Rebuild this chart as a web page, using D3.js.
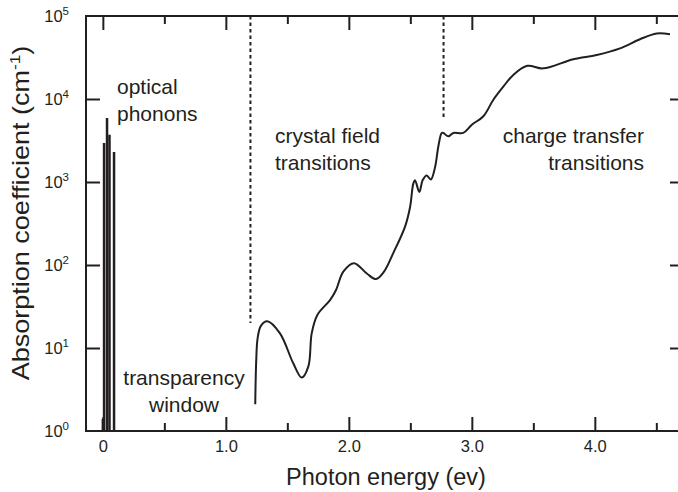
<!DOCTYPE html>
<html>
<head>
<meta charset="utf-8">
<script src="https://cdn.jsdelivr.net/npm/d3@7"></script>
<style>
  html, body { margin: 0; padding: 0; background: #fff; }
  svg { display: block; }
  text { font-family: "Liberation Sans", Arial, sans-serif; fill: #231f20; }
</style>
</head>
<body>
<svg id="chart" width="678" height="492"></svg>
<script>
// ---- data ----
const curveEnergy = [1.239, 1.247, 1.258, 1.285, 1.337, 1.44, 1.549, 1.617, 1.671, 1.698, 1.744, 1.847, 1.896, 1.955, 2.042, 2.146, 2.221, 2.286, 2.362, 2.457, 2.498, 2.524, 2.538, 2.573, 2.6, 2.633, 2.666, 2.701, 2.728, 2.755, 2.768, 2.809, 2.85, 2.93, 3.0, 3.094, 3.175, 3.256, 3.337, 3.451, 3.581, 3.825, 4.015, 4.205, 4.367, 4.503, 4.611];
const curveAbsorption = [2.1, 7, 13, 18.5, 21, 15.0, 6.5, 4.4, 6.0, 15.0, 25, 37.8, 50, 83, 105, 79, 67.6, 83, 140, 290, 500, 955, 1050, 760, 1050, 1200, 1070, 1510, 2700, 3900, 3900, 3550, 3900, 3900, 4900, 6200, 9800, 14100, 19500, 25100, 23400, 30200, 33900, 40700, 52500, 61700, 60300];
const phononEnergy = [0.0, 0.010, 0.034, 0.054, 0.091];
const phononAbsorption = [1.4, 2950, 5900, 3700, 2300];
const dividerEnergy = [1.2, 2.77];
const dividerAbsorption = [20, 6000];
const xMajorTicks = [0, 1, 2, 3, 4];
const xMajorLabels = ["0", "1.0", "2.0", "3.0", "4.0"];
const xMinorTicks = [0.5, 1.5, 2.5, 3.5, 4.5];
const yTicks = [1, 10, 100, 1000, 10000, 100000];
const yTickExponents = ["0", "1", "2", "3", "4", "5"];

// ---- layout ----
const svg = d3.select("#chart");
const pL = 86, pR = 684, pT = 16, pB = 431;
const ink = "#231f20";

const x = d3.scaleLinear().domain([-0.137, 4.725]).range([pL, pR]);
const y = d3.scaleLog().domain([1, 1e5]).range([pB, pT]);

// frame
svg.append("rect").attr("x", pL).attr("y", pT).attr("width", pR - pL).attr("height", pB - pT)
  .attr("fill", "none").attr("stroke", ink).attr("stroke-width", 2);

function styleAxis(g) {
  g.select(".domain").remove();
  g.selectAll(".tick line").attr("stroke", ink).attr("stroke-width", 2);
}

// bottom axis: major + minor (inward)
svg.append("g").attr("transform", `translate(0,${pB})`)
  .call(d3.axisBottom(x).tickValues(xMajorTicks).tickSize(-14).tickPadding(9)
    .tickFormat((d, i) => xMajorLabels[i]))
  .call(styleAxis)
  .call(g => g.selectAll(".tick text").attr("font-size", 16.5).attr("fill", ink)
    .style("font-family", "'Liberation Sans', Arial, sans-serif"));
svg.append("g").attr("transform", `translate(0,${pB})`)
  .call(d3.axisBottom(x).tickValues(xMinorTicks).tickSize(-8).tickFormat(""))
  .call(styleAxis);

// top axis
svg.append("g").attr("transform", `translate(0,${pT})`)
  .call(d3.axisTop(x).tickValues(xMajorTicks).tickSize(-14).tickFormat(""))
  .call(styleAxis);
svg.append("g").attr("transform", `translate(0,${pT})`)
  .call(d3.axisTop(x).tickValues(xMinorTicks).tickSize(-8).tickFormat(""))
  .call(styleAxis);

// left & right axes
svg.append("g").attr("transform", `translate(${pL},0)`)
  .call(d3.axisLeft(y).tickValues(yTicks.slice(1, 5)).tickSize(-14).tickFormat(""))
  .call(styleAxis);
svg.append("g").attr("transform", `translate(${pR},0)`)
  .call(d3.axisRight(y).tickValues(yTicks.slice(1, 5)).tickSize(-14).tickFormat(""))
  .call(styleAxis);

// y tick labels with superscripts
const yl = svg.append("g");
yTicks.forEach((v, i) => {
  const t = yl.append("text").attr("x", 69).attr("y", y(v) + 6)
    .attr("text-anchor", "end").attr("font-size", 16.5);
  t.append("tspan").text("10");
  t.append("tspan").attr("font-size", 11.5).attr("dy", -7).text(yTickExponents[i]);
});

// axis titles
svg.append("text").attr("x", 386).attr("y", 485).attr("text-anchor", "middle")
  .attr("font-size", 23.5).text("Photon energy (ev)");
const yt = svg.append("text").attr("transform", "translate(29,213) rotate(-90) scale(1.15,1)")
  .attr("text-anchor", "middle").attr("font-size", 23.5);
yt.append("tspan").text("Absorption coefficient (cm");
yt.append("tspan").attr("font-size", 15).attr("dy", -9).text("-1");
yt.append("tspan").attr("dy", 9).text(")");

// divider dashed lines
svg.selectAll(".divider").data(dividerEnergy).join("line")
  .attr("x1", d => x(d)).attr("x2", d => x(d))
  .attr("y1", pT).attr("y2", (d, i) => y(dividerAbsorption[i]))
  .attr("stroke", ink).attr("stroke-width", 2).attr("stroke-dasharray", "3.5,3");

// phonon bars
svg.selectAll(".phonon").data(phononEnergy).join("line")
  .attr("x1", d => x(d)).attr("x2", d => x(d))
  .attr("y1", y(1)).attr("y2", (d, i) => y(phononAbsorption[i]))
  .attr("stroke", ink).attr("stroke-width", 2.5);

// absorption curve
const pts = curveEnergy.map((e, i) => [e, curveAbsorption[i]]);
svg.append("path").datum(pts)
  .attr("d", d3.line().x(d => x(d[0])).y(d => y(d[1])).curve(d3.curveCatmullRom.alpha(0.5)))
  .attr("fill", "none").attr("stroke", ink).attr("stroke-width", 2).attr("stroke-linejoin", "round");

// annotations
function note(lines, xx, yy, anchor) {
  const t = svg.append("text").attr("font-size", 21).attr("text-anchor", anchor);
  lines.forEach((s, i) => t.append("tspan").attr("x", xx).attr("y", yy + i * 27).text(s));
}
note(["optical", "phonons"], 117, 94, "start");
note(["transparency", "window"], 184, 385, "middle");
note(["crystal field", "transitions"], 275, 143, "start");
note(["charge transfer"], 644, 143, "end");
note(["transitions"], 644, 170, "end");
</script>
</body>
</html>
